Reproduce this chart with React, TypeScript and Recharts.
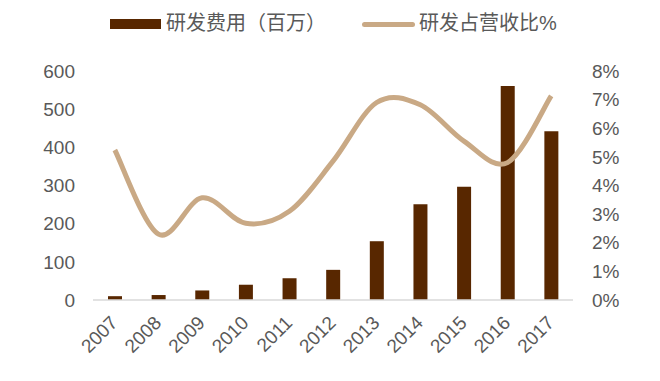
import { ComposedChart, Bar, Line, XAxis, YAxis } from "recharts";

// 研发费用 / 研发占营收比, 2007-2017
const years = ["2007", "2008", "2009", "2010", "2011", "2012", "2013", "2014", "2015", "2016", "2017"];
const rdExpense = [10, 13, 25, 40, 57, 79, 154, 251, 297, 561, 442];
const rdRatio = [5.24, 2.3, 3.57, 2.68, 3.1, 4.85, 6.9, 6.82, 5.55, 4.8, 7.13];
const leftTicks = [0, 100, 200, 300, 400, 500, 600];
const rightTicks = [0, 1, 2, 3, 4, 5, 6, 7, 8];

const BAR_COLOR = "#582700";
const LINE_COLOR = "#C9A985";
const TEXT_COLOR = "#595959";
const FONT = '"Liberation Sans", Arial, "Noto Sans CJK SC", sans-serif';

const data = years.map((y, i) => ({ year: y, expense: rdExpense[i], ratio: rdRatio[i] }));

// Excel-style smoothed line (Catmull-Rom through every point)
const smoothCurve = (context: any) => {
  let pts: number[][] = [];
  const k = 1 / 6;
  return {
    areaStart() {},
    areaEnd() {},
    lineStart() {
      pts = [];
    },
    lineEnd() {
      if (!pts.length) return;
      context.moveTo(pts[0][0], pts[0][1]);
      for (let i = 0; i < pts.length - 1; i++) {
        const p0 = pts[i - 1] || pts[i];
        const p1 = pts[i];
        const p2 = pts[i + 1];
        const p3 = pts[i + 2] || p2;
        context.bezierCurveTo(
          p1[0] + (p2[0] - p0[0]) * k,
          p1[1] + (p2[1] - p0[1]) * k,
          p2[0] - (p3[0] - p1[0]) * k,
          p2[1] - (p3[1] - p1[1]) * k,
          p2[0],
          p2[1]
        );
      }
    },
    point(x: number, y: number) {
      pts.push([x, y]);
    },
  };
};

const YearTick = (props: any) => {
  const { x, y, payload } = props;
  return (
    <g transform={`translate(${x + 4},${y + 16})`}>
      <text textAnchor="end" transform="rotate(-45)" fill={TEXT_COLOR} fontSize={19} fontFamily={FONT}>
        {payload.value}
      </text>
    </g>
  );
};

export default function App() {
  return (
    <div style={{ position: "absolute", left: 0, top: 0, width: 660, height: 381, background: "#fff", fontFamily: FONT }}>
      {/* legend */}
      <div style={{ position: "absolute", left: 110, top: 19, width: 51, height: 10, background: BAR_COLOR }} />
      <div style={{ position: "absolute", left: 166, top: 9, fontSize: 20, lineHeight: "28px", color: TEXT_COLOR, whiteSpace: "nowrap" }}>
        研发费用（百万）
      </div>
      <div style={{ position: "absolute", left: 362, top: 22, width: 53, height: 5, borderRadius: 3, background: LINE_COLOR }} />
      <div style={{ position: "absolute", left: 419, top: 9, fontSize: 20, lineHeight: "28px", color: TEXT_COLOR, whiteSpace: "nowrap" }}>
        研发占营收比%
      </div>

      <ComposedChart width={660} height={381} data={data} margin={{ top: 71, right: 0, bottom: 0, left: 0 }}>
        <XAxis
          dataKey="year"
          height={81}
          axisLine={{ stroke: "#d9d9d9", strokeWidth: 1.5 }}
          tickLine={false}
          interval={0}
          tick={<YearTick />}
        />
        <YAxis
          yAxisId="left"
          width={93}
          domain={[0, 600]}
          ticks={leftTicks}
          axisLine={false}
          tickLine={false}
          tickSize={0}
          tickMargin={18}
          tick={{ fill: TEXT_COLOR, fontSize: 19, fontFamily: FONT }}
        />
        <YAxis
          yAxisId="right"
          orientation="right"
          width={87}
          domain={[0, 8]}
          ticks={rightTicks}
          tickFormatter={(v) => `${v}%`}
          axisLine={false}
          tickLine={false}
          tickSize={0}
          tickMargin={19}
          tick={{ fill: TEXT_COLOR, fontSize: 19, fontFamily: FONT }}
        />
        <Bar yAxisId="left" dataKey="expense" fill={BAR_COLOR} barSize={14} isAnimationActive={false} />
        <Line
          yAxisId="right"
          type={smoothCurve as any}
          dataKey="ratio"
          stroke={LINE_COLOR}
          strokeWidth={5}
          dot={false}
          isAnimationActive={false}
        />
      </ComposedChart>
    </div>
  );
}
